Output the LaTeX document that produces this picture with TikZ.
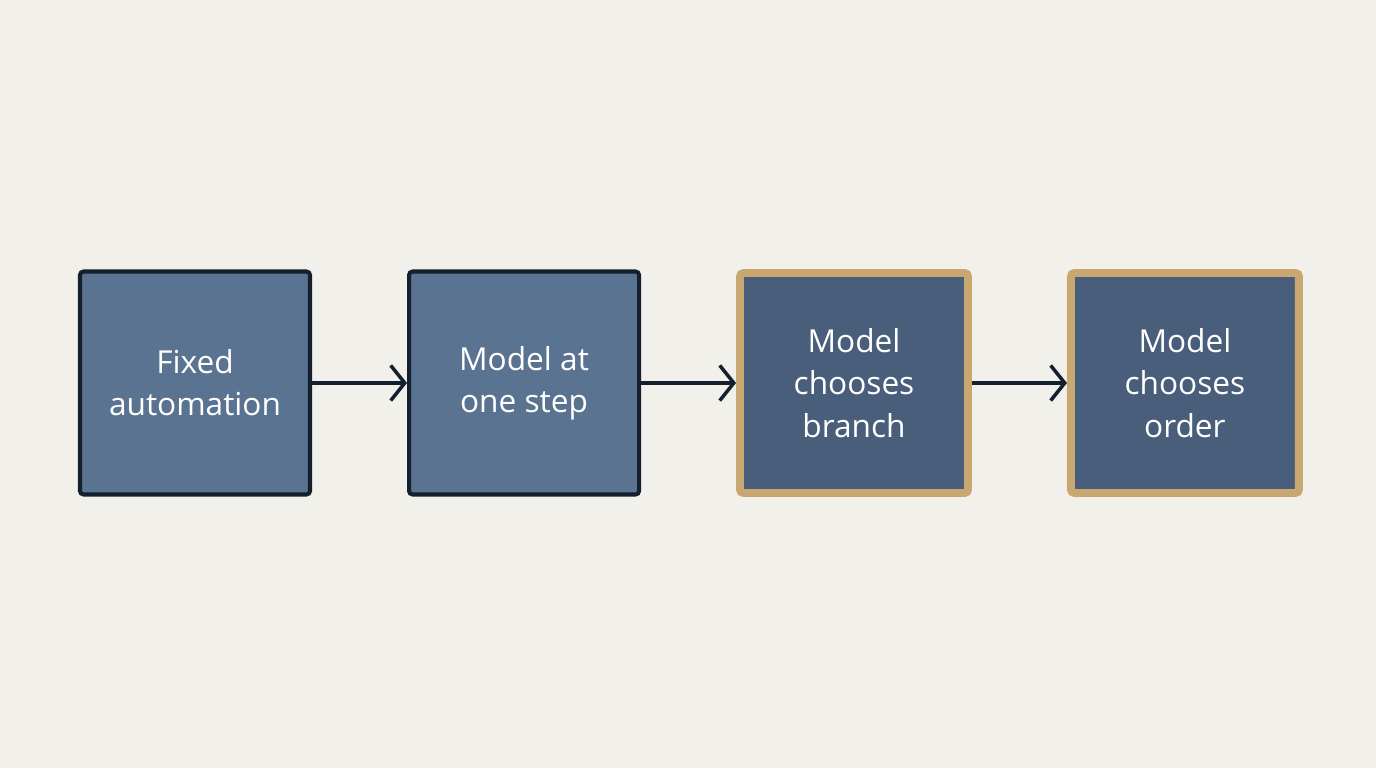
\documentclass[tikz,border=0pt]{standalone}
\usepackage{fontspec}
\setmainfont{Open Sans}
\usetikzlibrary{arrows.meta, positioning}
\definecolor{bgcream}{RGB}{242,240,235}
\definecolor{slateblue}{RGB}{90,115,144}
\definecolor{deepslate}{RGB}{72,94,122}
\definecolor{inkblack}{RGB}{20,32,46}
\definecolor{sandgold}{RGB}{200,168,112}
\begin{document}
\begin{tikzpicture}[
    node distance=1.9cm,
    stage/.style={rectangle, rounded corners=2pt, minimum width=4.6cm, minimum height=4.46cm, align=center, text=white, font=\fontsize{18}{24}\selectfont, draw=inkblack, line width=2.3pt, fill=slateblue},
    agentic/.style={stage, draw=sandgold, line width=4.5pt, fill=deepslate, minimum width=4.56cm, minimum height=4.4cm},
    arrow/.style={-{Straight Barb[length=8pt, width=20pt]}, line width=2pt, color=inkblack}
]
\fill[bgcream] (0,0) rectangle (27.52,15.36);
\useasboundingbox (0,0) rectangle (27.52,15.36);

% Stages from left to right
\node[stage] (fixed) at (3.9,7.7) {Fixed\\automation};
\node[stage, right=of fixed] (onestep) {Model at\\one step};
\node[agentic, right=of onestep] (branch) {Model\\chooses\\branch};
\node[agentic, right=of branch] (order) {Model\\chooses\\order};

% Arrows
\draw[arrow] (fixed) -- (onestep);
\draw[arrow] (onestep) -- (branch);
\draw[arrow] (branch) -- (order);

\end{tikzpicture}
\end{document}
